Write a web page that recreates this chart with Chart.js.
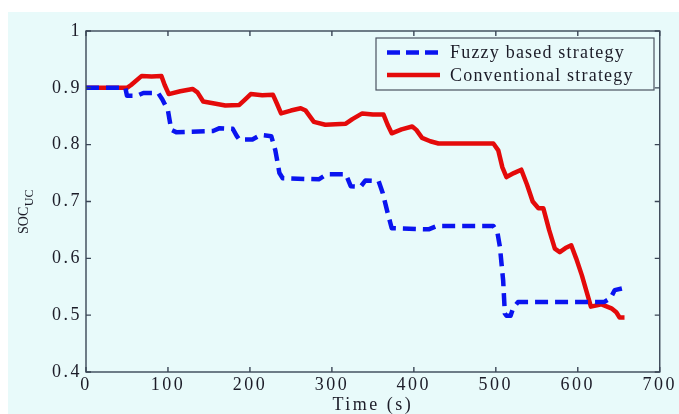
<!DOCTYPE html>
<html>
<head>
<meta charset="utf-8">
<script src="https://cdn.jsdelivr.net/npm/chart.js@4/dist/chart.umd.min.js"></script>
<style>
html,body{margin:0;padding:0;background:#ffffff;font-family:"Liberation Serif",serif;}
#wrap{width:679px;height:414px;position:relative;}
canvas{display:block;}
</style>
</head>
<body>
<div id="wrap"><canvas id="c" width="679" height="414"></canvas></div>
<script>
// ---- data ----
const fuzzyTime = [0,48,50,62,70,88,93,100,104,110,155,163,179,184,187,203,213,226,231,236,240,284,294,317,323,335,341,357,362,368,373,418,428,497,502,505,509,511,513,518,521,527,632,640,645,657];
const fuzzySoc  = [0.9,0.9,0.886,0.886,0.891,0.891,0.880,0.860,0.826,0.822,0.824,0.829,0.828,0.815,0.809,0.809,0.817,0.815,0.790,0.750,0.741,0.739,0.748,0.748,0.727,0.726,0.737,0.736,0.715,0.680,0.653,0.651,0.657,0.657,0.645,0.620,0.560,0.503,0.499,0.499,0.512,0.523,0.523,0.530,0.544,0.548];
const convTime = [0,50,55,68,80,92,96,101,115,130,136,143,155,170,187,193,201,215,228,233,238,250,262,268,278,292,317,325,337,350,363,368,373,385,398,403,410,420,430,497,503,508,513,522,531,538,545,552,558,565,572,578,585,592,598,605,611,616,629,641,647,651,657];
const convSoc  = [0.9,0.9,0.905,0.921,0.920,0.921,0.905,0.889,0.894,0.898,0.892,0.876,0.873,0.869,0.870,0.878,0.889,0.887,0.888,0.872,0.855,0.860,0.864,0.860,0.840,0.835,0.837,0.845,0.855,0.853,0.853,0.835,0.820,0.827,0.832,0.826,0.812,0.806,0.802,0.802,0.790,0.760,0.743,0.750,0.756,0.730,0.700,0.688,0.688,0.650,0.617,0.611,0.618,0.623,0.600,0.570,0.540,0.515,0.519,0.512,0.505,0.496,0.496];
const seriesNames = ['Fuzzy based strategy','Conventional strategy'];
const xTickValues = [0,100,200,300,400,500,600,700];
const yTickValues = [0.4,0.5,0.6,0.7,0.8,0.9,1];
const yTickLabels = ['0.4','0.5','0.6','0.7','0.8','0.9','1'];
const xTitle = 'Time (s)';
const yTitleMain = 'SOC';
const yTitleSub = 'UC';

// ---- styles ----
const BG = '#e8fafa';
const AXIS = '#3a4656';
const TEXT = '#1c1c28';
const BLUE = '#0a14f0';
const RED = '#e40a0a';
const SERIF = '"Liberation Serif"';
const SPACING = '2.5px';

function toPts(xs, ys){ return xs.map((x,i)=>({x:x, y:ys[i]})); }

const spacingPlugin = {
  id:'spacing',
  beforeUpdate(chart){ chart.ctx.letterSpacing = SPACING; },
  beforeLayout(chart){ chart.ctx.letterSpacing = SPACING; },
  beforeDraw(chart){
    const ctx = chart.ctx;
    ctx.letterSpacing = SPACING;
    ctx.save();
    ctx.fillStyle = BG;
    ctx.fillRect(8, 12, chart.width - 8, chart.height - 12);
    ctx.restore();
  }
};

const framePlugin = {
  id:'frame',
  afterDraw(chart){
    const ctx = chart.ctx;
    const a = chart.chartArea;
    const xs = chart.scales.x, ys = chart.scales.y;
    ctx.save();
    ctx.letterSpacing = '0px';
    ctx.strokeStyle = AXIS;
    ctx.lineWidth = 1.4;
    ctx.setLineDash([]);
    ctx.strokeRect(a.left, a.top, a.right - a.left, a.bottom - a.top);
    const tl = 5;
    ctx.beginPath();
    xTickValues.forEach(v=>{
      const px = xs.getPixelForValue(v);
      ctx.moveTo(px, a.bottom); ctx.lineTo(px, a.bottom - tl);
      ctx.moveTo(px, a.top); ctx.lineTo(px, a.top + tl);
    });
    yTickValues.forEach(v=>{
      const py = ys.getPixelForValue(v);
      ctx.moveTo(a.left, py); ctx.lineTo(a.left + tl, py);
      ctx.moveTo(a.right, py); ctx.lineTo(a.right - tl, py);
    });
    ctx.stroke();

    // y title with subscript
    ctx.fillStyle = TEXT;
    ctx.translate(28, 234);
    ctx.rotate(-Math.PI/2);
    ctx.textBaseline = 'alphabetic';
    ctx.textAlign = 'left';
    ctx.font = '14px ' + SERIF;
    ctx.fillText(yTitleMain, 0, 0);
    const w = ctx.measureText(yTitleMain).width;
    ctx.font = '12px ' + SERIF;
    ctx.fillText(yTitleSub, w + 0.5, 5);
    ctx.restore();

    // legend
    ctx.save();
    const lx = 376, ly = 38, lw = 278, lh = 52;
    ctx.fillStyle = BG;
    ctx.fillRect(lx, ly, lw, lh);
    ctx.strokeStyle = '#4a5260';
    ctx.lineWidth = 1.2;
    ctx.strokeRect(lx, ly, lw, lh);
    const rows = [
      {name: seriesNames[0], color: BLUE, dash:[13,6], y: 52.5},
      {name: seriesNames[1], color: RED, dash:[], y: 75}
    ];
    rows.forEach(r=>{
      ctx.strokeStyle = r.color;
      ctx.lineWidth = 4.5;
      ctx.setLineDash(r.dash);
      ctx.beginPath();
      ctx.moveTo(387, r.y); ctx.lineTo(440, r.y);
      ctx.stroke();
      ctx.setLineDash([]);
      ctx.fillStyle = TEXT;
      ctx.font = '18px ' + SERIF;
      ctx.letterSpacing = '1.2px';
      ctx.textBaseline = 'middle';
      ctx.textAlign = 'left';
      ctx.fillText(r.name, 450, r.y + 1);
    });
    ctx.restore();
  }
};

function build(){
  new Chart(document.getElementById('c'), {
    type: 'line',
    data: {
      datasets: [
        {
          label: seriesNames[0],
          data: toPts(fuzzyTime, fuzzySoc),
          borderColor: BLUE,
          borderWidth: 4.5,
          borderDash: [13, 7],
          pointRadius: 0,
          tension: 0,
          borderJoinStyle: 'round',
          fill: false
        },
        {
          label: seriesNames[1],
          data: toPts(convTime, convSoc),
          borderColor: RED,
          borderWidth: 4.5,
          pointRadius: 0,
          tension: 0,
          borderJoinStyle: 'round',
          fill: false
        }
      ]
    },
    options: {
      responsive: false,
      animation: false,
      devicePixelRatio: 1,
      layout: { padding: { left: 0, top: 31, right: 17, bottom: 0 } },
      plugins: { legend: { display: false }, tooltip: { enabled: false } },
      scales: {
        x: {
          type: 'linear',
          min: 0, max: 700,
          afterBuildTicks(s){ s.ticks = xTickValues.map(v=>({value:v})); },
          afterFit(s){ s.height = 42; },
          grid: { display: false, drawTicks: false },
          border: { display: false },
          ticks: {
            padding: 2,
            color: TEXT,
            font: { family: SERIF, size: 18 },
            maxRotation: 0,
            callback: (v)=> String(v)
          },
          title: {
            display: true,
            text: xTitle,
            color: TEXT,
            font: { family: SERIF, size: 18, lineHeight: 1.0 },
            padding: { top: 0, bottom: 0 }
          }
        },
        y: {
          type: 'linear',
          min: 0.4, max: 1,
          afterBuildTicks(s){ s.ticks = yTickValues.map(v=>({value:v})); },
          afterFit(s){ s.width = 86; },
          grid: { display: false, drawTicks: false },
          border: { display: false },
          ticks: {
            padding: 4,
            color: TEXT,
            font: { family: SERIF, size: 18 },
            callback: (v)=> { const i = yTickValues.findIndex(t=>Math.abs(t-v)<1e-9); return i>=0 ? yTickLabels[i] : ''; }
          }
        }
      }
    },
    plugins: [spacingPlugin, framePlugin]
  });
}
if (document.fonts && document.fonts.load) {
  Promise.all([
    document.fonts.load('18px "Liberation Serif"'),
    document.fonts.load('12px "Liberation Serif"')
  ]).then(build, build);
} else { build(); }
</script>
</body>
</html>
